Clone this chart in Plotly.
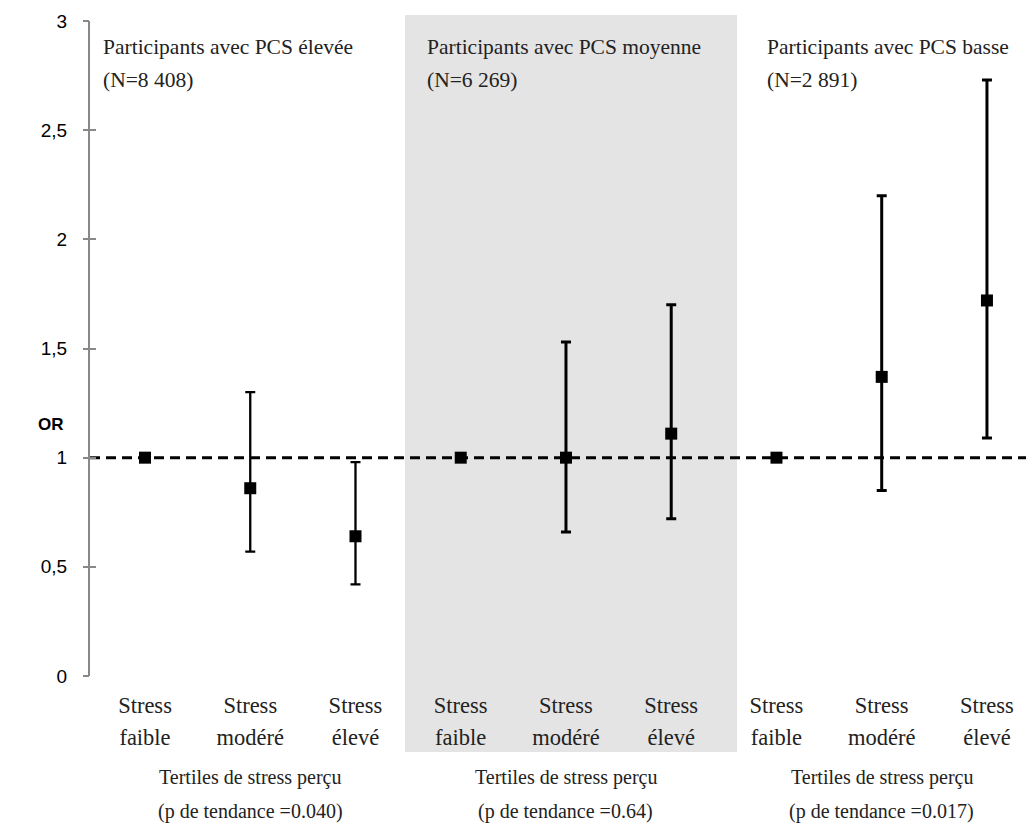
import plotly.graph_objects as go

# ---- data ----
tick_line1 = ["Stress"] * 9
tick_line2 = ["faible", "modéré", "élevé"] * 3
or_values = [1.00, 0.86, 0.64, 1.00, 1.00, 1.11, 1.00, 1.37, 1.72]
ci_low = [1.00, 0.57, 0.42, 1.00, 0.66, 0.72, 1.00, 0.85, 1.09]
ci_high = [1.00, 1.30, 0.98, 1.00, 1.53, 1.70, 1.00, 2.20, 2.73]
group_titles = ["Participants avec PCS élevée", "Participants avec PCS moyenne", "Participants avec PCS basse"]
group_n = ["(N=8 408)", "(N=6 269)", "(N=2 891)"]
trend_p = ["(p de tendance =0.040)", "(p de tendance =0.64)", "(p de tendance =0.017)"]
y_ticks = [0, 0.5, 1, 1.5, 2, 2.5, 3]
x_pos = list(range(len(or_values)))

serif = "Liberation Serif"
sans = "Liberation Sans"
txt = "#222"
bar_thickness = [2.3, 3, 3]

fig = go.Figure()
for g in range(3):
    sl = slice(3 * g, 3 * g + 3)
    xs, vs, lo, hi = x_pos[sl], or_values[sl], ci_low[sl], ci_high[sl]
    fig.add_trace(go.Scatter(
        x=xs, y=vs, mode="markers",
        marker=dict(symbol="square", size=12, color="black"),
        error_y=dict(type="data", symmetric=False,
                     array=[h - v for h, v in zip(hi, vs)],
                     arrayminus=[v - l for v, l in zip(vs, lo)],
                     color="black", thickness=bar_thickness[g], width=5),
        showlegend=False, hoverinfo="skip",
    ))
# invisible helpers so the overlay axes are drawn
fig.add_trace(go.Scatter(x=[x_pos[0]], y=[or_values[0]], xaxis="x", yaxis="y2", mode="markers",
                         marker=dict(opacity=0), showlegend=False, hoverinfo="skip"))
fig.add_trace(go.Scatter(x=[x_pos[0]], y=[or_values[0]], xaxis="x2", yaxis="y", mode="markers",
                         marker=dict(opacity=0), showlegend=False, hoverinfo="skip"))

# shaded middle group
fig.add_shape(type="rect", xref="x", yref="paper", x0=2.47, x1=5.625, y0=-0.116, y1=1.009,
              fillcolor="#e4e4e4", line=dict(width=0), layer="below")
# reference line OR = 1
fig.add_shape(type="line", xref="paper", yref="y", x0=0, x1=1, y0=1, y1=1,
              line=dict(color="black", width=3, dash="10px,6px"), layer="below")

annotations = []
title_x = [-0.42, 2.66, 5.89]
for i in range(3):
    annotations.append(dict(x=title_x[i], y=2.88, xref="x", yref="y", text=group_titles[i],
                            showarrow=False, xanchor="left", yanchor="middle",
                            font=dict(family=serif, size=21.5, color=txt)))
    annotations.append(dict(x=title_x[i], y=2.73, xref="x", yref="y", text=group_n[i],
                            showarrow=False, xanchor="left", yanchor="middle",
                            font=dict(family=serif, size=21.5, color=txt)))
    mid = x_pos[3 * i + 1]
    annotations.append(dict(x=mid, y=-0.155, xref="x", yref="paper", text="Tertiles de stress perçu",
                            showarrow=False, xanchor="center", yanchor="middle",
                            font=dict(family=serif, size=20, color=txt)))
    annotations.append(dict(x=mid, y=-0.207, xref="x", yref="paper", text=trend_p[i],
                            showarrow=False, xanchor="center", yanchor="middle",
                            font=dict(family=serif, size=20, color=txt)))
annotations.append(dict(x=-0.057, y=1.15, xref="paper", yref="y", text="<b>OR</b>",
                        showarrow=False, xanchor="left", yanchor="middle",
                        font=dict(family=sans, size=17, color="black")))

xrange = [-0.5226, 8.447]
fig.update_layout(
    width=1026, height=824,
    margin=dict(l=82, r=0, t=13, b=156),
    paper_bgcolor="white", plot_bgcolor="rgba(0,0,0,0)",
    separators=", ",
    xaxis=dict(range=xrange, tickvals=x_pos, ticktext=tick_line1,
               showgrid=False, zeroline=False, showline=False, ticks="",
               tickfont=dict(family=serif, size=22.5, color=txt), ticklabelstandoff=13),
    xaxis2=dict(range=xrange, overlaying="x", anchor="y", side="bottom",
                tickvals=x_pos, ticktext=tick_line2,
                showgrid=False, zeroline=False, showline=False, ticks="",
                tickfont=dict(family=serif, size=22.5, color=txt), ticklabelstandoff=45),
    yaxis=dict(range=[0, 3], tickvals=y_ticks, showgrid=False,
               zeroline=False, showline=True, linecolor="#888", linewidth=2,
               ticks="inside", ticklen=6, tickcolor="#888", tickwidth=2,
               tickfont=dict(family=sans, size=19, color="black"), ticklabelstandoff=17),
    yaxis2=dict(range=[0, 3], overlaying="y", anchor="x", side="left", tickvals=y_ticks,
                showticklabels=False, showgrid=False, zeroline=False, showline=False,
                ticks="outside", ticklen=6, tickcolor="#888", tickwidth=2),
    annotations=annotations,
)

fig.write_html("out.html")
